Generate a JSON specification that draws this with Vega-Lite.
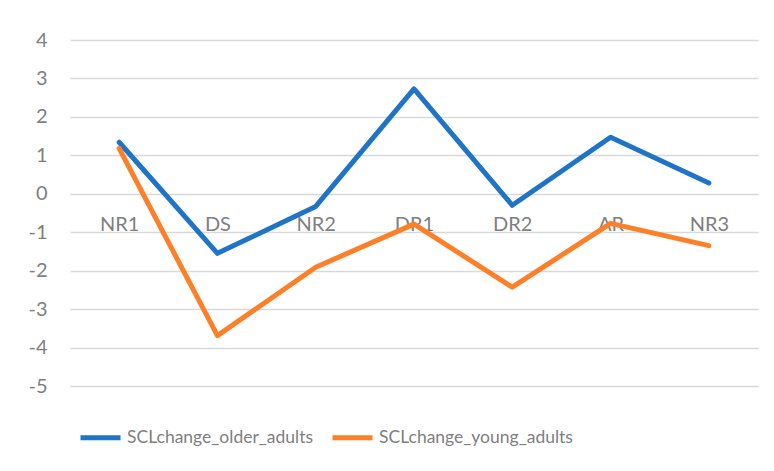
{
  "$schema": "https://vega.github.io/schema/vega-lite/v6.json",
  "width": 688,
  "height": 346,
  "autosize": {"type": "none"},
  "padding": {"left": 70, "top": 40, "right": 16, "bottom": 85},
  "background": "white",
  "config": {
    "view": {"stroke": null},
    "font": "Lato",
    "axis": {"labelFont": "Lato", "labelFontSize": 20, "labelColor": "#7f7f7f"},
    "legend": {"labelFont": "Lato", "labelFontSize": 17.5, "labelColor": "#7f7f7f", "labelLimit": 400}
  },
  "data": {
    "values": [
      {"phase": "NR1", "series": "SCLchange_older_adults", "value": 1.34},
      {"phase": "DS", "series": "SCLchange_older_adults", "value": -1.55},
      {"phase": "NR2", "series": "SCLchange_older_adults", "value": -0.33},
      {"phase": "DR1", "series": "SCLchange_older_adults", "value": 2.73},
      {"phase": "DR2", "series": "SCLchange_older_adults", "value": -0.3},
      {"phase": "AR", "series": "SCLchange_older_adults", "value": 1.47},
      {"phase": "NR3", "series": "SCLchange_older_adults", "value": 0.28},
      {"phase": "NR1", "series": "SCLchange_young_adults", "value": 1.18},
      {"phase": "DS", "series": "SCLchange_young_adults", "value": -3.69},
      {"phase": "NR2", "series": "SCLchange_young_adults", "value": -1.91},
      {"phase": "DR1", "series": "SCLchange_young_adults", "value": -0.79},
      {"phase": "DR2", "series": "SCLchange_young_adults", "value": -2.43},
      {"phase": "AR", "series": "SCLchange_young_adults", "value": -0.77},
      {"phase": "NR3", "series": "SCLchange_young_adults", "value": -1.35}
    ]
  },
  "mark": {"type": "line", "strokeWidth": 5, "strokeCap": "round", "strokeJoin": "round"},
  "encoding": {
    "x": {
      "field": "phase",
      "type": "nominal",
      "sort": ["NR1", "DS", "NR2", "DR1", "DR2", "AR", "NR3"],
      "scale": {"type": "point", "padding": 0.5},
      "axis": {
        "title": null,
        "labelAngle": 0,
        "domain": false,
        "ticks": false,
        "grid": false,
        "offset": -192.4,
        "labelPadding": 21,
        "zindex": 0
      }
    },
    "y": {
      "field": "value",
      "type": "quantitative",
      "scale": {"domain": [-5, 4], "nice": false, "zero": false},
      "axis": {
        "title": null,
        "values": [-5, -4, -3, -2, -1, 0, 1, 2, 3, 4],
        "labelExpr": "'' + datum.value",
        "domain": false,
        "ticks": false,
        "grid": true,
        "gridColor": "#d9d9d9",
        "gridWidth": 1.5,
        "labelPadding": 23,
        "zindex": 0
      }
    },
    "color": {
      "field": "series",
      "type": "nominal",
      "scale": {
        "domain": ["SCLchange_older_adults", "SCLchange_young_adults"],
        "range": ["#1f74c7", "#fd7f28"]
      },
      "legend": {
        "title": null,
        "orient": "none",
        "direction": "horizontal",
        "legendX": 8,
        "legendY": 375,
        "symbolType": "stroke",
        "symbolSize": 1600,
        "symbolStrokeWidth": 5,
        "labelOffset": 4,
        "columnPadding": 8
      }
    }
  }
}
